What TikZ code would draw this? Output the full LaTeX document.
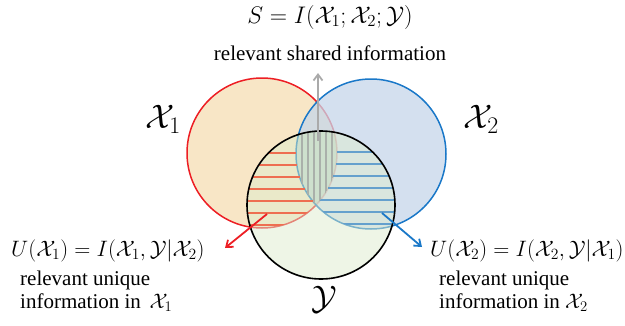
\documentclass[tikz,border=0pt]{standalone}
\usepackage{fix-cm}
\usepackage{fontspec}
\setmainfont{Liberation Serif}
\usetikzlibrary{arrows.meta}
\definecolor{redc}{RGB}{237,30,36}
\definecolor{bluec}{RGB}{26,120,200}
\definecolor{redfill}{RGB}{248,230,198}
\definecolor{bluefill}{RGB}{198,214,234}
\definecolor{greenfill}{RGB}{221,236,205}
\definecolor{hatchred}{RGB}{238,110,80}
\definecolor{hatchblue}{RGB}{100,160,205}
\definecolor{hatchgray}{RGB}{170,176,170}
\definecolor{arrgray}{RGB}{170,170,170}
\begin{document}
\begin{tikzpicture}[x=1pt,y=-1pt,
  txt/.style={font=\fontsize{21}{24}\selectfont, inner sep=0pt},
  formula/.style={font=\fontsize{22.3}{26}\selectfont, inner sep=0pt},
  bigformula/.style={font=\fontsize{24}{30}\selectfont, inner sep=0pt},
  setlabel/.style={font=\fontsize{34}{40}\selectfont, inner sep=0pt},
  hline/.style={line width=1.4pt},
  arr/.style={line width=1.8pt, -{Straight Barb[length=6pt,width=9pt]}}]
\useasboundingbox (0,0) rectangle (625,325);
\coordinate (cR) at (262,153);
\coordinate (cB) at (371,154);
\coordinate (cY) at (321,205);
% fills
\fill[redfill] (cR) circle[radius=75pt];
\draw[redc, line width=1.5pt] (cR) circle[radius=75pt];
\fill[bluefill, fill opacity=.75] (cB) circle[radius=75pt];
\draw[bluec, line width=1.5pt] (cB) circle[radius=75pt];
\fill[greenfill, fill opacity=.5] (cY) circle[radius=74pt];
% red hatch: red and Y, outside blue
\begin{scope}
  \clip (cR) circle[radius=75pt];
  \clip (cY) circle[radius=74pt];
  \foreach \yy in {153,165,...,225}{
    \pgfmathsetmacro\xe{371-sqrt(75*75-(\yy-154)*(\yy-154))}
    \draw[hatchred, hline] (230,\yy) -- (\xe,\yy);
  }
\end{scope}
% blue hatch: blue and Y, outside red
\begin{scope}
  \clip (cB) circle[radius=75pt];
  \clip (cY) circle[radius=74pt];
  \foreach \yy in {152,164,...,224}{
    \pgfmathsetmacro\xs{262+sqrt(75*75-(\yy-153)*(\yy-153))}
    \draw[hatchblue, hline] (\xs,\yy) -- (420,\yy);
  }
\end{scope}
% triple region
\begin{scope}
  \clip (cR) circle[radius=75pt];
  \clip (cB) circle[radius=75pt];
  \clip (cY) circle[radius=74pt];
  \fill[black!40!green, fill opacity=.04] (290,120) rectangle (345,220);
  \foreach \xx in {302,308,...,338}{
    \draw[hatchgray, line width=1.2pt] (\xx,120) -- (\xx,220);
  }
\end{scope}
\draw[black, line width=1.6pt] (cY) circle[radius=74pt];
% arrows
\coordinate (gA) at (318,141);
\coordinate (gB) at (318,73);
\draw[arrgray, arr] (gA) -- (gB);
\coordinate (rA) at (267,214);
\coordinate (rB) at (225,248);
\draw[redc, arr] (rA) -- (rB);
\coordinate (bA) at (382,213);
\coordinate (bB) at (422,247);
\draw[bluec, arr] (bA) -- (bB);
% labels
\node[bigformula, anchor=base] (S) at (330,23) {$S = I(\mathcal{X}_1;\mathcal{X}_2;\mathcal{Y})$};
\node[txt, anchor=base] (St) at (330,60) {relevant shared information};
\node[setlabel] (X1) at (163,119) {$\mathcal{X}_1$};
\node[setlabel] (X2) at (481,119) {$\mathcal{X}_2$};
\node[setlabel] (Y) at (324,300) {$\mathcal{Y}$};
\node[formula, anchor=base west] (U1) at (11,256) {$U(\mathcal{X}_1) = I(\mathcal{X}_1,\mathcal{Y}|\mathcal{X}_2)$};
\node[txt, anchor=base west] (U1a) at (20,285) {relevant unique};
\node[txt, anchor=base west] (U1b) at (20,308) {information in \,$\mathcal{X}_1$};
\node[formula, anchor=base west] (U2) at (430,256) {$U(\mathcal{X}_2) = I(\mathcal{X}_2,\mathcal{Y}|\mathcal{X}_1)$};
\node[txt, anchor=base west] (U2a) at (439,285) {relevant unique};
\node[txt, anchor=base west] (U2b) at (439,308) {information in $\mathcal{X}_2$};
\end{tikzpicture}
\end{document}
